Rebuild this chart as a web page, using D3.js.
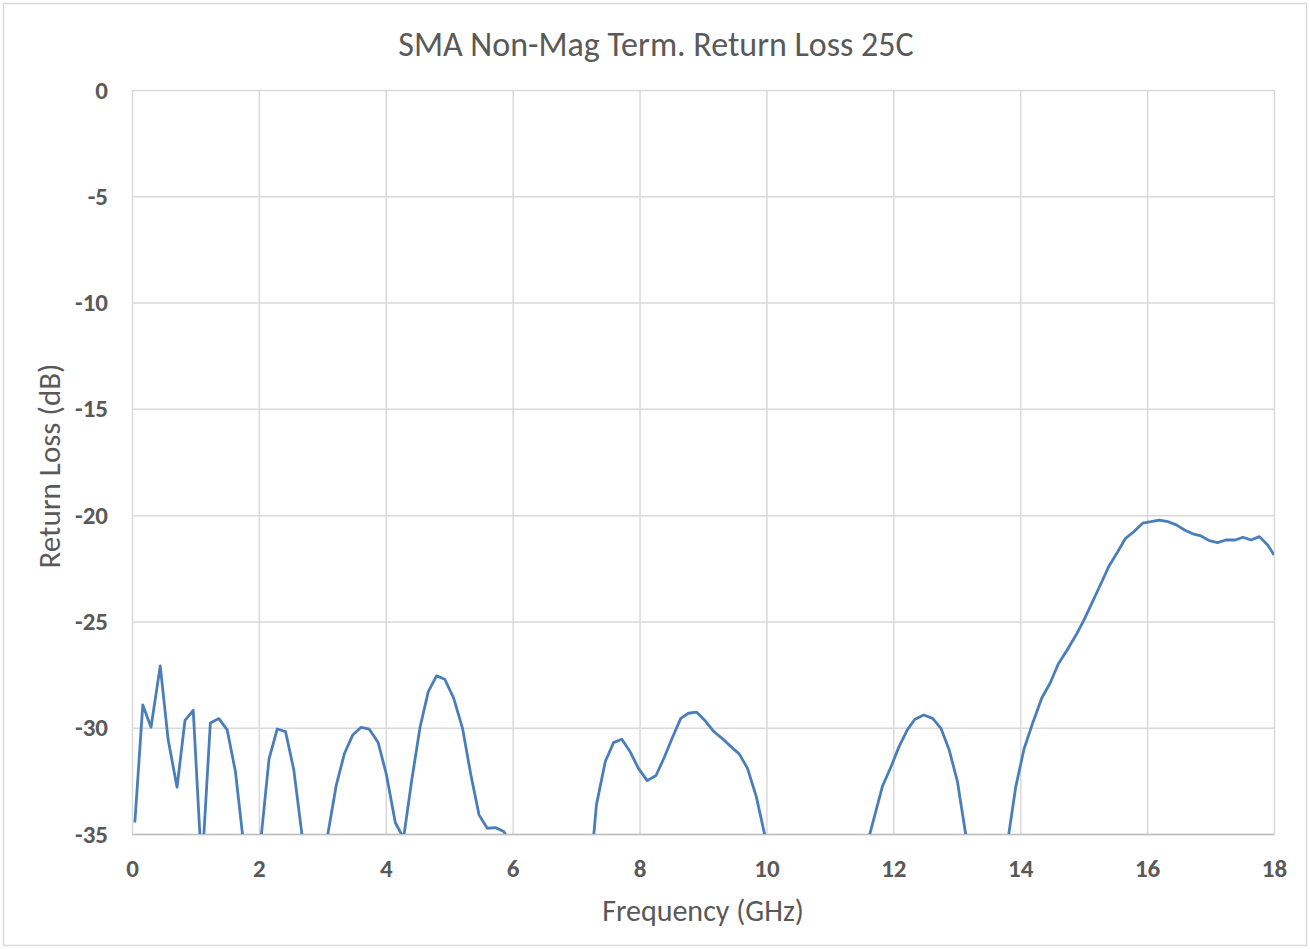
<!DOCTYPE html>
<html>
<head>
<meta charset="utf-8">
<script src="https://cdn.jsdelivr.net/npm/d3@7"></script>
<style>
  body { margin: 0; background: #fff; }
  svg { display: block; font-family: Carlito, Lato, 'Open Sans', sans-serif; }
</style>
</head>
<body>
<svg id="chart"></svg>
<script>
// values
const freqGHz = [
  0.045, 0.17, 0.30, 0.445, 0.57, 0.71, 0.835, 0.965, 1.10, 1.235,
  1.37, 1.50, 1.63, 1.76, 1.89, 2.03, 2.16, 2.29, 2.42, 2.55,
  2.68, 2.81, 2.94, 3.07, 3.22, 3.35, 3.48, 3.61, 3.74, 3.88,
  4.01, 4.15, 4.28, 4.41, 4.54, 4.67, 4.80, 4.93, 5.07, 5.21,
  5.34, 5.47, 5.60, 5.73, 5.86, 5.99, 6.12, 6.25, 6.38, 6.51,
  6.64, 6.77, 6.90, 7.03, 7.19, 7.32, 7.46, 7.59, 7.72, 7.85,
  7.98, 8.12, 8.26, 8.39, 8.52, 8.65, 8.77, 8.90, 9.03, 9.17,
  9.30, 9.44, 9.57, 9.70, 9.84, 9.97, 10.10, 10.23, 10.36, 10.49,
  10.62, 10.75, 10.88, 11.01, 11.14, 11.27, 11.40, 11.57, 11.83, 11.96,
  12.09, 12.22, 12.34, 12.48, 12.62, 12.75, 12.88, 13.01, 13.14, 13.27,
  13.40, 13.53, 13.66, 13.80, 13.93, 14.06, 14.20, 14.34, 14.47, 14.60,
  14.74, 14.88, 15.01, 15.14, 15.27, 15.40, 15.53, 15.66, 15.79, 15.93,
  16.06, 16.19, 16.33, 16.46, 16.59, 16.72, 16.85, 16.98, 17.11, 17.24,
  17.39, 17.51, 17.64, 17.77, 17.90, 18.00
];
const returnLossDb = [
  -34.46, -28.93, -29.98, -27.09, -30.57, -32.8, -29.66, -29.18, -36.7, -29.78,
  -29.57, -30.1, -32.06, -35.5, -37.0, -35.3, -31.47, -30.06, -30.18, -31.98,
  -35.05, -37.0, -37.5, -35.3, -32.7, -31.2, -30.34, -29.98, -30.07, -30.7,
  -32.2, -34.46, -35.2, -32.45, -29.98, -28.3, -27.56, -27.72, -28.61, -30.03,
  -32.2, -34.1, -34.73, -34.7, -34.88, -35.6, -36.5, -37.4, -38.2, -38.9,
  -39.2, -39.5, -39.6, -39.0, -38.05, -33.63, -31.59, -30.7, -30.54, -31.12,
  -31.9, -32.49, -32.25, -31.39, -30.45, -29.56, -29.32, -29.27, -29.66, -30.18,
  -30.5, -30.89, -31.23, -31.9, -33.24, -35.0, -36.8, -38.0, -39.1, -40.0,
  -40.6, -40.9, -40.7, -40.2, -39.3, -38.2, -37.0, -35.67, -32.74, -31.86,
  -30.89, -30.1, -29.6, -29.4, -29.56, -30.03, -31.04, -32.53, -35.0, -37.2,
  -38.3, -38.0, -37.0, -35.4, -32.77, -31.0, -29.75, -28.6, -27.91, -27.0,
  -26.34, -25.64, -24.9, -24.07, -23.24, -22.39, -21.76, -21.09, -20.78, -20.38,
  -20.31, -20.23, -20.31, -20.46, -20.7, -20.88, -20.98, -21.2, -21.29, -21.17,
  -21.17, -21.04, -21.17, -21.01, -21.4, -21.87
];
const xTicks = [0, 2, 4, 6, 8, 10, 12, 14, 16, 18];
const yTicks = [0, -5, -10, -15, -20, -25, -30, -35];

const W = 1310, H = 949;
const margin = { top: 90, right: 36, bottom: 115, left: 132 };
const w = W - margin.left - margin.right;
const h = H - margin.top - margin.bottom;
const textColor = '#595959';

const data = freqGHz.map((f, i) => ({ f, v: returnLossDb[i] }));

const svg = d3.select('#chart').attr('width', W).attr('height', H);

// chart frame
svg.append('rect')
  .attr('x', 3.5).attr('y', 3.5)
  .attr('width', W - 7).attr('height', H - 7)
  .attr('fill', '#fff').attr('stroke', '#d9d9d9').attr('stroke-width', 1.5);

const g = svg.append('g').attr('transform', `translate(${margin.left},${margin.top})`);

const x = d3.scaleLinear().domain([0, 18]).range([0, w]);
const y = d3.scaleLinear().domain([-35, 0]).range([h, 0]);

// gridlines
g.append('g')
  .call(d3.axisLeft(y).tickValues(yTicks).tickSize(-w).tickFormat(''))
  .call(a => a.select('.domain').remove())
  .selectAll('line').attr('stroke', '#d9d9d9').attr('stroke-width', 1.5);
g.append('g')
  .call(d3.axisBottom(x).tickValues(xTicks).tickSize(h).tickFormat(''))
  .call(a => a.select('.domain').remove())
  .selectAll('line').attr('stroke', '#d9d9d9').attr('stroke-width', 1.5);

// bottom axis
const xAxis = g.append('g')
  .attr('transform', `translate(0,${h})`)
  .call(d3.axisBottom(x).tickValues(xTicks).tickSize(0).tickPadding(25).tickFormat(d => String(d)));
xAxis.select('.domain').attr('stroke', '#bfbfbf').attr('stroke-width', 1.5);
xAxis.selectAll('text')
  .attr('font-size', 25).attr('font-weight', 'bold').attr('fill', textColor)
  .attr('font-family', "Carlito, Lato, 'Open Sans', sans-serif");

// left axis labels (plain hyphen minus like the original)
const yAxis = g.append('g')
  .call(d3.axisLeft(y).tickValues(yTicks).tickSize(0).tickPadding(24).tickFormat(d => String(d)));
yAxis.select('.domain').remove();
yAxis.selectAll('text')
  .attr('font-size', 25).attr('font-weight', 'bold').attr('fill', textColor)
  .attr('font-family', "Carlito, Lato, 'Open Sans', sans-serif");

// clip the trace to the plot area
svg.append('defs').append('clipPath').attr('id', 'plotClip')
  .append('rect').attr('width', w).attr('height', h);

const line = d3.line().x(d => x(d.f)).y(d => y(d.v));

g.append('path')
  .datum(data)
  .attr('clip-path', 'url(#plotClip)')
  .attr('fill', 'none')
  .attr('stroke', '#4a7ebb')
  .attr('stroke-width', 2.8)
  .attr('stroke-linejoin', 'round')
  .attr('d', line);

// titles
svg.append('text')
  .attr('x', 656).attr('y', 56)
  .attr('text-anchor', 'middle')
  .attr('font-size', 34).attr('fill', textColor)
  .text('SMA Non-Mag Term. Return Loss 25C');

svg.append('text')
  .attr('x', 703).attr('y', 921)
  .attr('text-anchor', 'middle')
  .attr('font-size', 30).attr('fill', textColor)
  .text('Frequency (GHz)');

svg.append('text')
  .attr('transform', `translate(60,466) rotate(-90)`)
  .attr('text-anchor', 'middle')
  .attr('font-size', 31).attr('fill', textColor)
  .text('Return Loss (dB)');
</script>
</body>
</html>
